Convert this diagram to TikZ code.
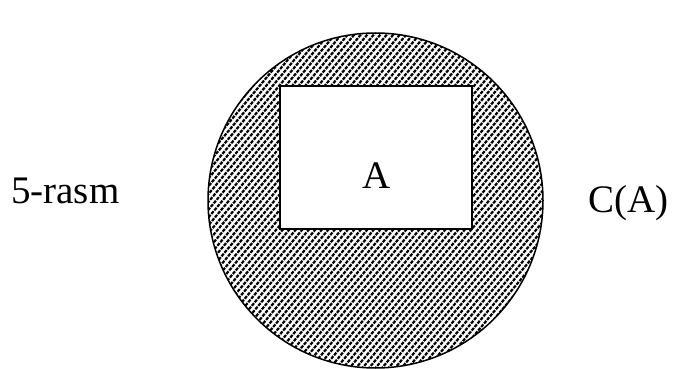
\documentclass[tikz,border=0pt]{standalone}
\usepackage{fontspec}
\setmainfont{Liberation Serif}
\usetikzlibrary{positioning}

\begin{document}
\begin{tikzpicture}[x=1pt, y=-1pt,
  label/.style={font=\fontsize{39}{44}\selectfont, inner sep=0pt},
  hatch/.style={line width=2.2pt, dash pattern=on 3.4pt off 1.2pt},
  setbox/.style={draw, line width=2pt, fill=white, minimum width=192pt,
                 minimum height=143pt, inner sep=0pt}
]
\useasboundingbox (0,0) rectangle (681,369);
% ---- outer set C(A) ---------------------------------------------------
\node[circle, minimum size=335pt, inner sep=0pt] (ca) at (375.5,200.5) {};
\begin{scope}
  \clip (ca.center) circle (167.5pt);
  \foreach \k in {-200,-193.5,...,900}
    \draw[hatch] (\k,380) -- ++(300,-360);
\end{scope}
\draw[line width=1.5pt] (ca.center) circle (167.5pt);

% ---- inner set A --------------------------------------------------------
\node[setbox] (a) at (376,157.5) {};
\node[label, anchor=base] (atext) at (377,188) {A};

% ---- captions -----------------------------------------------------------
\node[label, anchor=base west] (fig) at (11,204) {5-rasm};
\node[label, anchor=base west] (catext) at (588,212) {C(A)};
\end{tikzpicture}
\end{document}
